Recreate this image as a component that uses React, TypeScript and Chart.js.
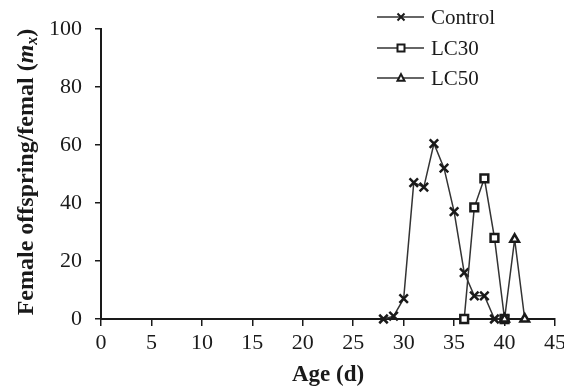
import React, { useEffect, useRef } from "react";
import { Chart, registerables } from "chart.js";

Chart.register(...registerables);

const controlAge = [28, 29, 30, 31, 32, 33, 34, 35, 36, 37, 38, 39, 40];
const controlVal = [0, 1, 7, 47, 45.5, 60.5, 52, 37, 16, 8, 8, 0, 0];
const lc30Age = [36, 37, 38, 39, 40];
const lc30Val = [0, 38.5, 48.5, 28, 0];
const lc50Age = [40, 41, 42];
const lc50Val = [0, 27.5, 0];
const seriesNames = ["Control", "LC30", "LC50"];
const xTitle = "Age (d)";
const yTitleMain = "Female offspring/femal (";
const yTitleVar = "m";
const yTitleSub = "x";
const yTitleEnd = ")";

const SERIF = "'Liberation Serif', 'Times New Roman', serif";
const INK = "#1a1a1a";
const LINE = "#333";

function drawMarker(ctx: CanvasRenderingContext2D, kind: string, x: number, y: number, r: number) {
  ctx.save();
  ctx.strokeStyle = INK;
  ctx.fillStyle = "#fff";
  ctx.lineWidth = 2;
  ctx.beginPath();
  if (kind === "crossRot") {
    ctx.moveTo(x - r, y - r);
    ctx.lineTo(x + r, y + r);
    ctx.moveTo(x + r, y - r);
    ctx.lineTo(x - r, y + r);
    ctx.stroke();
  } else if (kind === "rect") {
    ctx.rect(x - r, y - r, 2 * r, 2 * r);
    ctx.fill();
    ctx.stroke();
  } else {
    ctx.moveTo(x, y - r * 1.1);
    ctx.lineTo(x + r, y + r * 0.8);
    ctx.lineTo(x - r, y + r * 0.8);
    ctx.closePath();
    ctx.fill();
    ctx.stroke();
  }
  ctx.restore();
}

const decorPlugin = {
  id: "decor",
  afterDraw(chart: any) {
    const ctx: CanvasRenderingContext2D = chart.ctx;
    const area = chart.chartArea;
    ctx.save();
    ctx.fillStyle = INK;
    ctx.font = `bold 23px ${SERIF}`;
    ctx.textAlign = "center";
    ctx.textBaseline = "middle";
    ctx.fillText(xTitle, (area.left + area.right) / 2, 375);

    const fMain = `bold 24px ${SERIF}`;
    const fVar = `italic bold 24px ${SERIF}`;
    const fSub = `italic bold 16px ${SERIF}`;
    ctx.font = fMain;
    const w1 = ctx.measureText(yTitleMain).width;
    const w4 = ctx.measureText(yTitleEnd).width;
    ctx.font = fVar;
    const w2 = ctx.measureText(yTitleVar).width;
    ctx.font = fSub;
    const w3 = ctx.measureText(yTitleSub).width;
    const total = w1 + w2 + w3 + w4;
    ctx.translate(25, 172);
    ctx.rotate(-Math.PI / 2);
    ctx.textAlign = "left";
    ctx.textBaseline = "alphabetic";
    const base = 8;
    let x = -total / 2;
    ctx.font = fMain;
    ctx.fillText(yTitleMain, x, base);
    x += w1;
    ctx.font = fVar;
    ctx.fillText(yTitleVar, x, base);
    x += w2;
    ctx.font = fSub;
    ctx.fillText(yTitleSub, x, base + 4);
    x += w3;
    ctx.font = fMain;
    ctx.fillText(yTitleEnd, x, base);
    ctx.restore();

    ctx.save();
    const rows = [17, 48, 78];
    const kinds = ["crossRot", "rect", "triangle"];
    ctx.strokeStyle = LINE;
    ctx.lineWidth = 1.5;
    ctx.font = `21px ${SERIF}`;
    ctx.fillStyle = INK;
    ctx.textAlign = "left";
    ctx.textBaseline = "middle";
    rows.forEach((y, i) => {
      ctx.beginPath();
      ctx.moveTo(377, y);
      ctx.lineTo(424, y);
      ctx.stroke();
      drawMarker(ctx, kinds[i], 401, y, 3.5);
      ctx.fillText(seriesNames[i], 431, y + 1);
    });
    ctx.restore();
  },
};

const toPts = (xs: number[], ys: number[]) => xs.map((x, i) => ({ x, y: ys[i] }));

export default function App() {
  const ref = useRef<HTMLCanvasElement | null>(null);
  useEffect(() => {
    if (!ref.current) return;
    const common = {
      borderColor: LINE,
      borderWidth: 1.5,
      pointBorderColor: INK,
      pointBackgroundColor: "#fff",
      pointBorderWidth: 2.5,
      tension: 0,
      clip: false as any,
    };
    const chart = new Chart(ref.current, {
      type: "line",
      data: {
        datasets: [
          { ...common, label: seriesNames[2], data: toPts(lc50Age, lc50Val), pointStyle: "triangle", pointRadius: 5 },
          { ...common, label: seriesNames[1], data: toPts(lc30Age, lc30Val), pointStyle: "rect", pointRadius: 5.5 },
          { ...common, label: seriesNames[0], data: toPts(controlAge, controlVal), pointStyle: "crossRot", pointRadius: 6 },
        ],
      },
      options: {
        animation: false,
        responsive: false,
        layout: { padding: { top: 29, right: 9, bottom: 0, left: 0 } },
        plugins: { legend: { display: false }, tooltip: { enabled: false } },
        scales: {
          x: {
            type: "linear",
            min: 0,
            max: 45,
            ticks: { stepSize: 5, color: INK, font: { family: SERIF, size: 22 }, padding: 4, maxRotation: 0 },
            grid: { drawOnChartArea: false, drawTicks: true, tickLength: 7, color: INK, lineWidth: 1.5 },
            border: { display: true, color: INK, width: 2 },
            afterFit: (s: any) => {
              s.height = 392 - 319;
              s.paddingLeft = 0;
              s.paddingRight = 0;
            },
          },
          y: {
            type: "linear",
            min: 0,
            max: 100,
            ticks: { stepSize: 20, color: INK, font: { family: SERIF, size: 22 }, padding: 13 },
            grid: { drawOnChartArea: false, drawTicks: true, tickLength: 6, color: INK, lineWidth: 1.5 },
            border: { display: true, color: INK, width: 2 },
            afterFit: (s: any) => {
              s.width = 101;
              s.paddingTop = 0;
              s.paddingBottom = 0;
            },
          },
        },
      },
      plugins: [decorPlugin],
    });
    return () => chart.destroy();
  }, []);
  return (
    <div style={{ position: "absolute", left: 0, top: 0, width: 564, height: 392, background: "#fff" }}>
      <canvas ref={ref} width={564} height={392} />
    </div>
  );
}
